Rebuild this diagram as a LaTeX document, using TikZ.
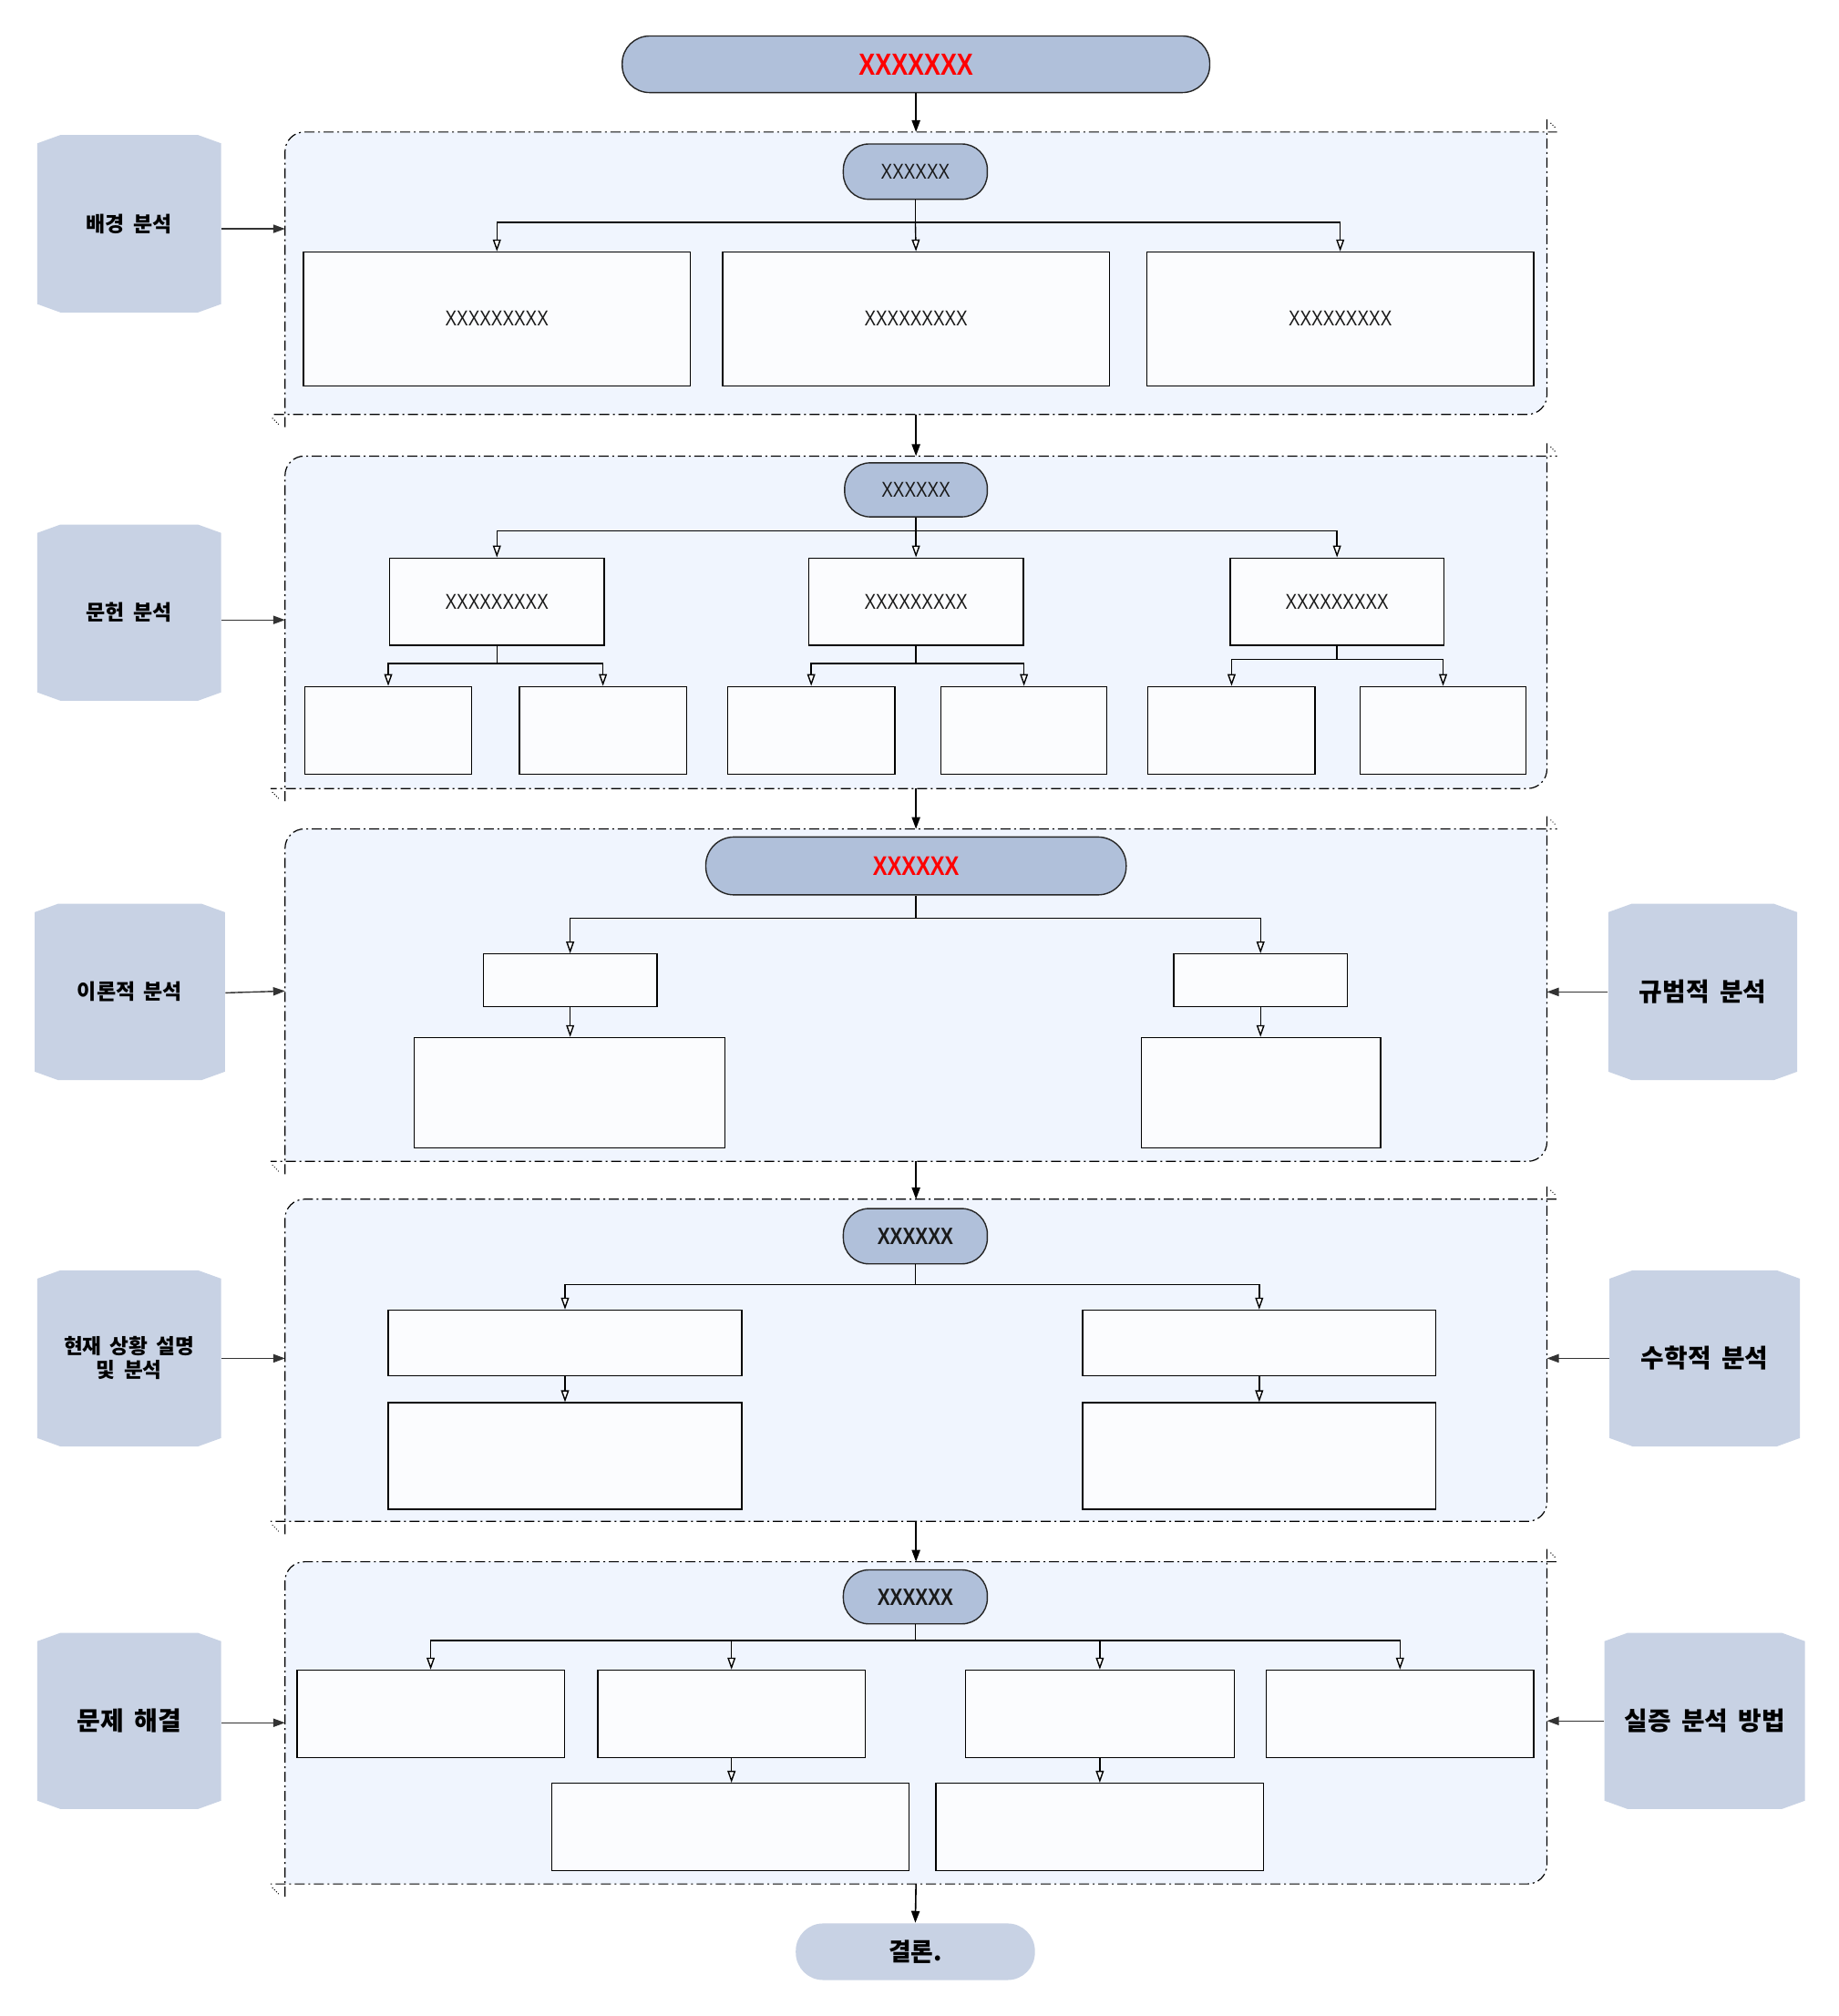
\documentclass[tikz,border=0pt]{standalone}
\usepackage{fontspec}
\usetikzlibrary{arrows.meta,calc}
\newfontfamily\krfont[WordSpace=1.8]{Noto Sans CJK KR}
\newfontfamily\xfont[FakeStretch=0.8]{Liberation Sans}
\definecolor{pillfill}{HTML}{B0C0DA}
\definecolor{labelfill}{HTML}{C8D2E4}
\definecolor{grpbg}{HTML}{F0F5FE}
\definecolor{boxfill}{HTML}{FBFCFE}
\definecolor{textdark}{HTML}{1A1A1A}
\def\px{0.7056pt}

% node from corner coordinates: style, name, x1, y1, x2, y2, text
\newcommand\bx[7]{\node[#1, minimum width={(#5-(#3))*\px}, minimum height={(#6-(#4))*\px}] (#2) at ({(#3+#5)/2},{(#4+#6)/2}) {#7};}

% side label with chamfered corners
\newcommand\sidelabel[7]{%
  \fill[labelfill] (#2,{#3+6.5}) -- ({#2+18},#3) -- ({#4-18},#3) -- (#4,{#3+6.5})
    -- (#4,{#5-6.5}) -- ({#4-18},#5) -- ({#2+18},#5) -- (#2,{#5-6.5}) -- cycle;
  \bx{label, font=\krfont\bfseries\fontsize{#6}{13}\selectfont}{#1}{#2}{#3}{#4}{#5}{#7}}

% dash-dotted stage frame drawn around an invisible group node
\newcommand\grpframe[1]{%
  \fill[grpbg] (#1.south west) -- ([yshift=-10.6pt]#1.north west)
    arc[start angle=180,end angle=90,radius=10.6pt] -- (#1.north east)
    -- ([yshift=10.6pt]#1.south east) arc[start angle=0,end angle=-90,radius=10.6pt] -- cycle;
  \draw[grpline] ([yshift=-7pt]#1.south west) -- ([yshift=-10.6pt]#1.north west)
    arc[start angle=180,end angle=90,radius=10.6pt] -- ([xshift=5.5pt]#1.north east);
  \draw[grpline] ([yshift=7pt]#1.north east) -- ([yshift=10.6pt]#1.south east)
    arc[start angle=0,end angle=-90,radius=10.6pt] -- ([xshift=-8pt]#1.south west);
  \draw[line width=0.5pt, densely dotted] ([xshift=2pt,yshift=5pt]#1.north east) -- ++(3pt,-3pt);
  \draw[line width=0.5pt, densely dotted] ([xshift=-7pt,yshift=-2pt]#1.south west) -- ++(3.5pt,-3.5pt);}

\tikzset{
  box/.style={draw=black, line width=0.7pt, fill=boxfill, inner sep=0pt,
    text=textdark, font=\xfont\fontsize{11.8}{14}\selectfont},
  pill/.style={draw=black!85, line width=0.7pt, fill=pillfill, rounded corners=14pt,
    inner sep=0pt, text=textdark, font=\xfont\fontsize{11.8}{14}\selectfont},
  grp/.style={inner sep=0pt},
  label/.style={inner sep=0pt, align=center, text=black},
  grpline/.style={line width=0.6pt, black, dash pattern=on 5.5pt off 2pt on 1pt off 2pt},
  flow/.style={draw=black, line width=0.8pt, -{Triangle[length=6.5pt,width=4.6pt]}},
  feed/.style={draw=black!80, line width=0.7pt, -{Triangle[length=6.5pt,width=4.6pt]}},
  sub/.style={draw=black, line width=0.7pt, -{Triangle[length=6.5pt,width=4.4pt,fill=white]}},
  link/.style={draw=black, line width=0.7pt}
}

\begin{document}
\begin{tikzpicture}[x=0.7056pt, y=-0.7056pt]
\fill[white] (0,0) rectangle (1430,1568);
\useasboundingbox (0,0) rectangle (1430,1568);

% stage frames
\bx{grp}{g1}{222}{103}{1203}{322}{}
\bx{grp}{g2}{222}{355}{1203}{613}{}
\bx{grp}{g3}{222}{645}{1203}{903}{}
\bx{grp}{g4}{222}{933}{1203}{1183}{}
\bx{grp}{g5}{222}{1215}{1203}{1465}{}
\grpframe{g1}
\grpframe{g2}
\grpframe{g3}
\grpframe{g4}
\grpframe{g5}

% title and conclusion
\bx{pill, rounded corners=15pt, text=red, font=\xfont\bfseries\fontsize{16.8}{20}\selectfont}{title}{484}{28}{941}{72}{XXXXXXX}
\bx{pill, draw=none, fill=labelfill, rounded corners=15pt, text=black, font=\krfont\bfseries\fontsize{13.4}{15}\selectfont}{concl}{619}{1496}{805}{1540}{결론.}

% stage 1
\bx{pill}{p1}{656}{112}{768}{155}{XXXXXX}
\bx{box}{b11}{236}{196}{537}{300}{XXXXXXXXX}
\bx{box}{b12}{562}{196}{863}{300}{XXXXXXXXX}
\bx{box}{b13}{892}{196}{1193}{300}{XXXXXXXXX}

% stage 2
\bx{pill}{p2}{657}{360}{768}{402}{XXXXXX}
\bx{box}{b21}{303}{434}{470}{502}{XXXXXXXXX}
\bx{box}{b22}{629}{434}{796}{502}{XXXXXXXXX}
\bx{box}{b23}{957}{434}{1123}{502}{XXXXXXXXX}
\bx{box}{c211}{237}{534}{367}{602}{}
\bx{box}{c212}{404}{534}{534}{602}{}
\bx{box}{c221}{566}{534}{696}{602}{}
\bx{box}{c222}{732}{534}{861}{602}{}
\bx{box}{c231}{893}{534}{1023}{602}{}
\bx{box}{c232}{1058}{534}{1187}{602}{}

% stage 3
\bx{pill, rounded corners=15.5pt, text=red, font=\xfont\bfseries\fontsize{14.8}{18}\selectfont}{p3}{549}{651}{876}{696}{XXXXXX}
\bx{box}{b31}{376}{742}{511}{783}{}
\bx{box}{b32}{913}{742}{1048}{783}{}
\bx{box}{d31}{322}{807}{564}{893}{}
\bx{box}{d32}{888}{807}{1074}{893}{}

% stage 4
\bx{pill, font=\xfont\bfseries\fontsize{13}{16}\selectfont}{p4}{656}{940}{768}{983}{XXXXXX}
\bx{box}{b41}{302}{1019}{577}{1070}{}
\bx{box}{b42}{842}{1019}{1117}{1070}{}
\bx{box}{d41}{302}{1091}{577}{1174}{}
\bx{box}{d42}{842}{1091}{1117}{1174}{}

% stage 5
\bx{pill, font=\xfont\bfseries\fontsize{13}{16}\selectfont}{p5}{656}{1221}{768}{1263}{XXXXXX}
\bx{box}{b51}{231}{1299}{439}{1367}{}
\bx{box}{b52}{465}{1299}{673}{1367}{}
\bx{box}{b53}{751}{1299}{960}{1367}{}
\bx{box}{b54}{985}{1299}{1193}{1367}{}
\bx{box}{d51}{429}{1387}{707}{1455}{}
\bx{box}{d52}{728}{1387}{983}{1455}{}

% side labels
\sidelabel{l1}{29}{105}{172}{243}{11.5}{배경 분석}
\sidelabel{l2}{29}{408}{172}{545}{11.5}{문헌 분석}
\sidelabel{l3}{27}{703}{175}{840}{11.5}{이론적 분석}
\sidelabel{l4}{29}{988}{172}{1125}{11.3}{현재 상황 설명\\및 분석}
\sidelabel{l5}{29}{1270}{172}{1407}{14}{문제 해결}
\sidelabel{r3}{1251}{703}{1398}{840}{13.9}{규범적 분석}
\sidelabel{r4}{1252}{988}{1400}{1125}{13.9}{수학적 분석}
\sidelabel{r5}{1248}{1270}{1404}{1407}{13.9}{실증 분석 방법}

% main flow
\draw[flow] (title.south) -- (title.south |- g1.north);
\draw[flow] (g1.south) -- (g2.north);
\draw[flow] (g2.south) -- (g3.north);
\draw[flow] (g3.south) -- (g4.north);
\draw[flow] (g4.south) -- (g5.north);
\draw[flow] (g5.south) -- (concl.north);

% labels feeding the stages
\draw[feed] ([yshift=-2.8pt]l1.east) -- ([yshift=-2.8pt]l1.east -| g1.west);
\draw[feed] ([yshift=-4pt]l2.east) -- ([yshift=-4pt]l2.east -| g2.west);
\draw[feed] ([yshift=-0.5pt]l3.east) -- ([yshift=0.5pt]l3.east -| g3.west);
\draw[feed] (l4.east) -- (l4.east -| g4.west);
\draw[feed] ([yshift=-1pt]l5.east) -- ([yshift=-1pt]l5.east -| g5.west);
\draw[feed] (r3.west) -- (r3.west -| g3.east);
\draw[feed] (r4.west) -- (r4.west -| g4.east);
\draw[feed] (r5.west) -- (r5.west -| g5.east);

% stage 1 branches
\coordinate (j1) at (p1.south |- 0,173);
\draw[link] (p1.south) -- (j1);
\draw[sub] (j1) -| (b11.north);
\draw[sub] (j1) -| (b13.north);
\draw[sub] (j1) -- (b12.north);

% stage 2 branches
\coordinate (j2) at (p2.south |- 0,413);
\draw[link] (p2.south) -- (j2);
\draw[sub] (j2) -| (b21.north);
\draw[sub] (j2) -| (b23.north);
\draw[sub] (j2) -- (b22.north);
\coordinate (j21) at (b21.south |- 0,516);
\coordinate (j22) at (b22.south |- 0,516);
\coordinate (j23) at (b23.south |- 0,513);
\draw[link] (b21.south) -- (j21);
\draw[link] (b22.south) -- (j22);
\draw[link] (b23.south) -- (j23);
\draw[sub] (j21) -| (c211.north);
\draw[sub] (j21) -| (c212.north);
\draw[sub] (j22) -| (c221.north);
\draw[sub] (j22) -| (c222.north);
\draw[sub] (j23) -| (c231.north);
\draw[sub] (j23) -| (c232.north);

% stage 3 branches
\coordinate (j3) at (p3.south |- 0,714);
\draw[link] (p3.south) -- (j3);
\draw[sub] (j3) -| (b31.north);
\draw[sub] (j3) -| (b32.north);
\draw[sub] (b31.south) -- (b31.south |- d31.north);
\draw[sub] (b32.south) -- (b32.south |- d32.north);

% stage 4 branches
\coordinate (j4) at (p4.south |- 0,999);
\draw[link] (p4.south) -- (j4);
\draw[sub] (j4) -| (b41.north);
\draw[sub] (j4) -| (b42.north);
\draw[sub] (b41.south) -- (b41.south |- d41.north);
\draw[sub] (b42.south) -- (b42.south |- d42.north);

% stage 5 branches
\coordinate (j5) at (p5.south |- 0,1276);
\draw[link] (p5.south) -- (j5);
\draw[sub] (j5) -| (b51.north);
\draw[sub] (j5) -| (b52.north);
\draw[sub] (j5) -| (b53.north);
\draw[sub] (j5) -| (b54.north);
\draw[sub] (b52.south) -- (b52.south |- d51.north);
\draw[sub] (b53.south) -- (b53.south |- d52.north);
\end{tikzpicture}
\end{document}
